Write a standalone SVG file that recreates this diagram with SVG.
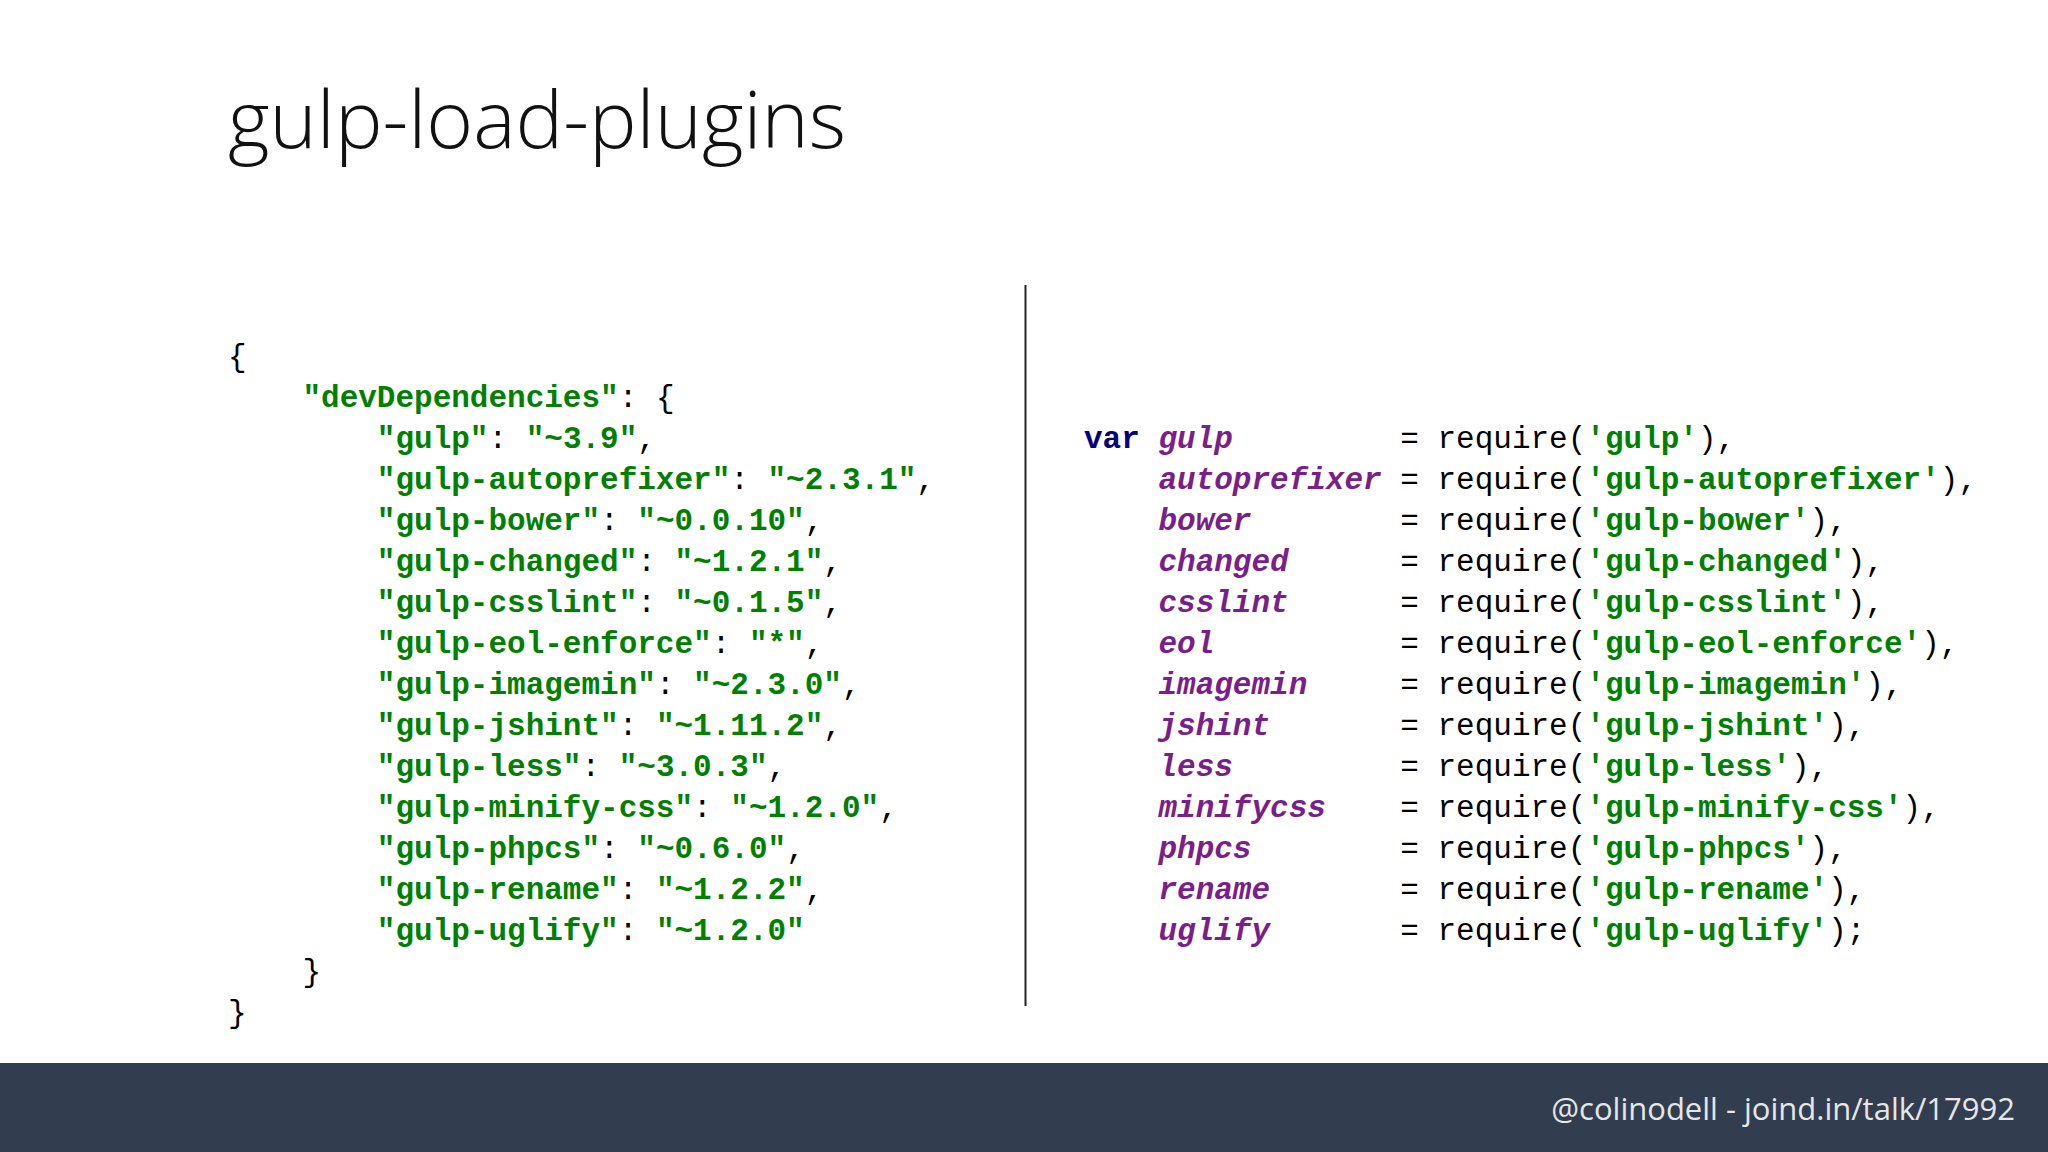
<svg xmlns="http://www.w3.org/2000/svg" width="2048" height="1152" viewBox="0 0 2048 1152">
<style>
.c{font-family:"Liberation Mono","DejaVu Sans Mono",monospace;font-size:31px;fill:#000;white-space:pre}
.s{fill:#008000;font-weight:bold}
.k{fill:#000080;font-weight:bold}
.v{fill:#7a1e8c;font-weight:bold;font-style:italic}
</style>
<rect width="2048" height="1152" fill="#fff"/>
<g id="title"><text x="228" y="148" font-family="'Open Sans',sans-serif" font-weight="300" font-size="80" fill="#111">gulp-load-plugins</text></g>
<g id="left" class="c" xml:space="preserve">
<text class="c" x="228" y="366">{</text>
<text class="c" x="228" y="407">    <tspan class="s">"devDependencies"</tspan>: {</text>
<text class="c" x="228" y="448">        <tspan class="s">"gulp"</tspan>: <tspan class="s">"~3.9"</tspan>,</text>
<text class="c" x="228" y="489">        <tspan class="s">"gulp-autoprefixer"</tspan>: <tspan class="s">"~2.3.1"</tspan>,</text>
<text class="c" x="228" y="530">        <tspan class="s">"gulp-bower"</tspan>: <tspan class="s">"~0.0.10"</tspan>,</text>
<text class="c" x="228" y="571">        <tspan class="s">"gulp-changed"</tspan>: <tspan class="s">"~1.2.1"</tspan>,</text>
<text class="c" x="228" y="612">        <tspan class="s">"gulp-csslint"</tspan>: <tspan class="s">"~0.1.5"</tspan>,</text>
<text class="c" x="228" y="653">        <tspan class="s">"gulp-eol-enforce"</tspan>: <tspan class="s">"*"</tspan>,</text>
<text class="c" x="228" y="694">        <tspan class="s">"gulp-imagemin"</tspan>: <tspan class="s">"~2.3.0"</tspan>,</text>
<text class="c" x="228" y="735">        <tspan class="s">"gulp-jshint"</tspan>: <tspan class="s">"~1.11.2"</tspan>,</text>
<text class="c" x="228" y="776">        <tspan class="s">"gulp-less"</tspan>: <tspan class="s">"~3.0.3"</tspan>,</text>
<text class="c" x="228" y="817">        <tspan class="s">"gulp-minify-css"</tspan>: <tspan class="s">"~1.2.0"</tspan>,</text>
<text class="c" x="228" y="858">        <tspan class="s">"gulp-phpcs"</tspan>: <tspan class="s">"~0.6.0"</tspan>,</text>
<text class="c" x="228" y="899">        <tspan class="s">"gulp-rename"</tspan>: <tspan class="s">"~1.2.2"</tspan>,</text>
<text class="c" x="228" y="940">        <tspan class="s">"gulp-uglify"</tspan>: <tspan class="s">"~1.2.0"</tspan></text>
<text class="c" x="228" y="981">    }</text>
<text class="c" x="228" y="1022">}</text>
</g>
<g id="divider"><line x1="1025.5" y1="285" x2="1025.5" y2="1006" stroke="#222" stroke-width="2"/></g>
<g id="right" xml:space="preserve">
<text class="c" x="1084" y="448"><tspan class="k">var</tspan> <tspan class="v">gulp</tspan>         = require(<tspan class="s">'gulp'</tspan>),</text>
<text class="c" x="1084" y="489">    <tspan class="v">autoprefixer</tspan> = require(<tspan class="s">'gulp-autoprefixer'</tspan>),</text>
<text class="c" x="1084" y="530">    <tspan class="v">bower</tspan>        = require(<tspan class="s">'gulp-bower'</tspan>),</text>
<text class="c" x="1084" y="571">    <tspan class="v">changed</tspan>      = require(<tspan class="s">'gulp-changed'</tspan>),</text>
<text class="c" x="1084" y="612">    <tspan class="v">csslint</tspan>      = require(<tspan class="s">'gulp-csslint'</tspan>),</text>
<text class="c" x="1084" y="653">    <tspan class="v">eol</tspan>          = require(<tspan class="s">'gulp-eol-enforce'</tspan>),</text>
<text class="c" x="1084" y="694">    <tspan class="v">imagemin</tspan>     = require(<tspan class="s">'gulp-imagemin'</tspan>),</text>
<text class="c" x="1084" y="735">    <tspan class="v">jshint</tspan>       = require(<tspan class="s">'gulp-jshint'</tspan>),</text>
<text class="c" x="1084" y="776">    <tspan class="v">less</tspan>         = require(<tspan class="s">'gulp-less'</tspan>),</text>
<text class="c" x="1084" y="817">    <tspan class="v">minifycss</tspan>    = require(<tspan class="s">'gulp-minify-css'</tspan>),</text>
<text class="c" x="1084" y="858">    <tspan class="v">phpcs</tspan>        = require(<tspan class="s">'gulp-phpcs'</tspan>),</text>
<text class="c" x="1084" y="899">    <tspan class="v">rename</tspan>       = require(<tspan class="s">'gulp-rename'</tspan>),</text>
<text class="c" x="1084" y="940">    <tspan class="v">uglify</tspan>       = require(<tspan class="s">'gulp-uglify'</tspan>);</text>
</g>
<g id="footer">
<rect x="0" y="1063" width="2048" height="89" fill="#323e4f"/>
<text x="2015" y="1120" text-anchor="end" font-family="'Open Sans',sans-serif" font-size="31" fill="#e6e6e6">@colinodell - joind.in/talk/17992</text>
</g>
</svg>
